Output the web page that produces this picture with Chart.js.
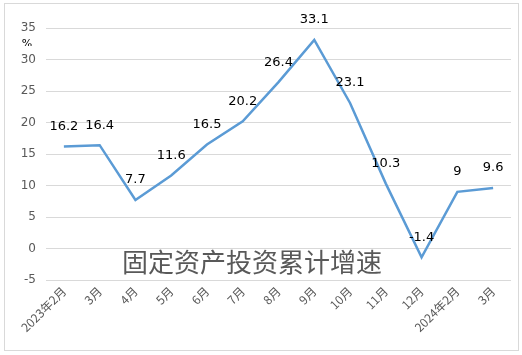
<!DOCTYPE html>
<html>
<head>
<meta charset="utf-8">
<script src="https://cdn.jsdelivr.net/npm/chart.js@4/dist/chart.umd.min.js"></script>
<style>
    html, body { margin: 0; padding: 0; background: #fff; }
    #wrap { position: relative; width: 522px; height: 355px; }
    #frame { position: absolute; left: 4px; top: 3px; width: 513px; height: 346px; border: 1px solid #d9d9d9; pointer-events: none; }
</style>
</head>
<body>
<div id="wrap">
    <canvas id="growthChart" width="522" height="355"></canvas>
    <div id="frame"></div>
</div>
<script>
(function() {
    "use strict";

    var months = ["2023年2月", "3月", "4月", "5月", "6月", "7月", "8月", "9月", "10月", "11月", "12月", "2024年2月", "3月"];
    var growth = [16.2, 16.4, 7.7, 11.6, 16.5, 20.2, 26.4, 33.1, 23.1, 10.3, -1.4, 9, 9.6];
    var yTicks = [-5, 0, 5, 10, 15, 20, 25, 30, 35];
    var title = "固定资产投资累计增速";

    var gray = "#595959";

    var pointLabels = {
        id: "pointLabels",
        afterDatasetsDraw: function(chart) {
            var ctx = chart.ctx;
            var meta = chart.getDatasetMeta(0);
            ctx.save();
            ctx.fillStyle = "#000";
            ctx.font = "13px 'DejaVu Sans'";
            ctx.textAlign = "center";
            ctx.textBaseline = "middle";
            meta.data.forEach(function(pt, i) {
                ctx.fillText(String(growth[i]), pt.x, pt.y - 20);
            });
            ctx.restore();
        }
    };

    var extras = {
        id: "extras",
        afterDraw: function(chart) {
            var ctx = chart.ctx;
            ctx.save();
            // cut-off percent sign under the top tick
            ctx.beginPath();
            ctx.rect(15, 39, 30, 7);
            ctx.clip();
            ctx.fillStyle = "#000";
            ctx.font = "11px 'DejaVu Sans'";
            ctx.textAlign = "center";
            ctx.textBaseline = "middle";
            ctx.fillText("%", 27, 44);
            ctx.restore();

            ctx.save();
            ctx.fillStyle = gray;
            ctx.font = "26px 'Noto Sans CJK SC'";
            ctx.textAlign = "center";
            ctx.textBaseline = "middle";
            var y = chart.scales.y.getPixelForValue(-2.2);
            ctx.fillText(title, 252, y);
            ctx.restore();
        }
    };

    new Chart(document.getElementById("growthChart").getContext("2d"), {
        type: "line",
        data: {
            labels: months,
            datasets: [{
                data: growth,
                borderColor: "#5b9bd5",
                borderWidth: 2.5,
                pointRadius: 0,
                tension: 0,
                fill: false
            }]
        },
        options: {
            responsive: false,
            animation: false,
            layout: {
                padding: { left: 0, right: 11, top: 28, bottom: 0 }
            },
            plugins: {
                legend: { display: false },
                tooltip: { enabled: false }
            },
            scales: {
                x: {
                    offset: true,
                    grid: { display: false, drawTicks: false },
                    border: { display: false },
                    afterFit: function(scale) { scale.height = 75; },
                    ticks: {
                        color: gray,
                        autoSkip: false,
                        maxRotation: 45,
                        minRotation: 45,
                        padding: 4,
                        font: { size: 12, family: "'Noto Sans CJK SC'" }
                    }
                },
                y: {
                    min: -5,
                    max: 35,
                    afterFit: function(scale) { scale.width = 46; },
                    afterBuildTicks: function(scale) {
                        scale.ticks = yTicks.map(function(v) { return { value: v }; });
                    },
                    grid: { color: "#d9d9d9", drawTicks: false, lineWidth: 1 },
                    border: { display: false },
                    ticks: {
                        color: gray,
                        padding: 10,
                        font: { size: 12, family: "'DejaVu Sans'" }
                    }
                }
            }
        },
        plugins: [pointLabels, extras]
    });
})();
</script>
</body>
</html>
